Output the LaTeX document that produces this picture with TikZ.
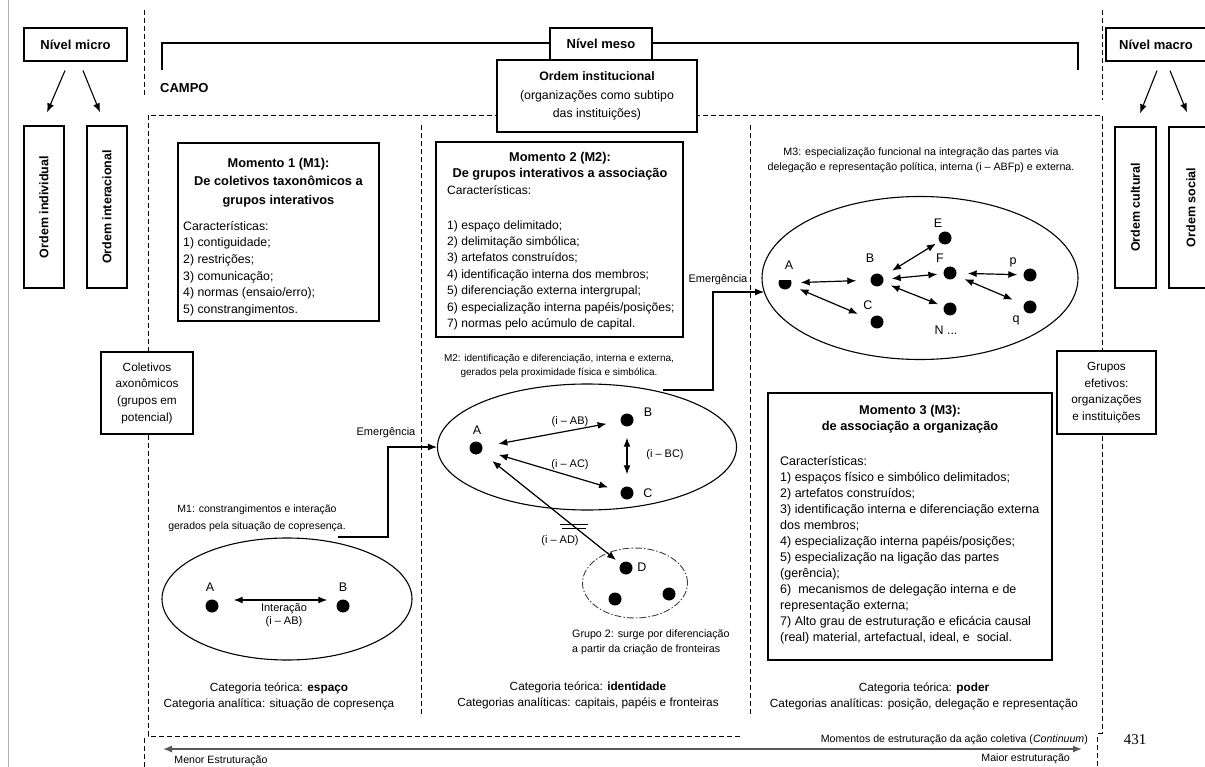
\documentclass[tikz,border=0pt]{standalone}
\usepackage{fontspec}
\setmainfont{Liberation Sans}
\newfontfamily\numfont{Liberation Serif}
\usetikzlibrary{arrows.meta,shapes.geometric}
\newcommand\topstrut{\rule{0pt}{9pt}}
\begin{document}
\begin{tikzpicture}[x=1pt,y=-1pt,
  frame/.style={draw, line width=1.2pt, fill=white, inner sep=0pt},
  dsh/.style={dash pattern=on 5pt off 3pt, line width=0.8pt},
  ell/.style={draw, ellipse, line width=1.1pt, inner sep=0pt},
  dot/.style={circle, fill=black, inner sep=0pt, minimum size=13pt},
  arr/.style={-{Latex[length=9pt,width=7pt]}, line width=1.1pt},
  dbl/.style={{Latex[length=9pt,width=7pt]}-{Latex[length=9pt,width=7pt]}, line width=1.2pt},
  lvl/.style={font=\fontsize{13}{15}\selectfont\bfseries},
  rot/.style={rotate=90, font=\fontsize{12.5}{14}\selectfont\bfseries, inner sep=0pt},
  lab/.style={font=\fontsize{12.5}{14}\selectfont, inner sep=0pt},
  rel/.style={font=\fontsize{11}{13}\selectfont, inner sep=0pt},
  ctr/.style={inner sep=0pt, align=center},
  foottxt/.style={font=\fontsize{10.6}{12}\selectfont, inner sep=0pt}
]
\useasboundingbox (0,0) rectangle (1205,767);
\fill[white] (0,0) rectangle (1205,767);
\draw[black!30, line width=1pt] (8,0) -- (8,767);

% separators between the levels and the field
\draw[dsh] (144,10) -- (144,97);
\draw[dsh] (144,738) -- (144,767);
\draw[dsh] (1102,10) -- (1102,100);
\draw[dsh] (740,736) -- (148,736) -- (148,115) -- (1102,115) -- (1102,733) -- (1097,733);
\draw[dsh] (1097,737) -- (1097,767);
\draw[dsh] (421,125) -- (421,715);
\draw[dsh] (750,125) -- (750,715);

% meso bracket
\draw[line width=1.1pt] (162,70) -- (162,43) -- (1078,43) -- (1078,70);

% levels
\node[frame, lvl, minimum width=103pt, minimum height=33pt] (micro) at (75.5,44.5) {Nível micro};
\node[frame, lvl, minimum width=102pt, minimum height=32pt] (meso) at (601,44) {Nível meso};
\node[frame, lvl, minimum width=100pt, minimum height=33pt] (macro) at (1156,44.5) {Nível macro};

\node[frame, minimum width=40pt, minimum height=162pt] (oind) at (44,207) {};
\node[rot] (oindt) at (oind) {Ordem individual};
\node[frame, minimum width=40pt, minimum height=162pt] (oint) at (107,207) {};
\node[rot] (ointt) at (oint) {Ordem interacional};
\node[frame, minimum width=41pt, minimum height=161pt] (ocul) at (1135.5,207.5) {};
\node[rot] (ocult) at (ocul) {Ordem cultural};
\node[frame, minimum width=41pt, minimum height=161pt] (osoc) at (1189.5,207.5) {};
\node[rot] (osoct) at (1191,207.5) {Ordem social};

\draw[arr] ([xshift=-10.5pt,yshift=-9pt]micro.south) -- ([xshift=3pt,yshift=13pt]oind.north);
\draw[arr] ([xshift=7.5pt,yshift=-9pt]micro.south) -- ([xshift=-7pt,yshift=13pt]oint.north);
\draw[arr] ([xshift=1pt,yshift=-9pt]macro.south) -- ([xshift=4.5pt,yshift=13pt]ocul.north);
\draw[arr] ([xshift=14pt,yshift=-9pt]macro.south) -- ([xshift=-2.5pt,yshift=14pt]osoc.north);

\node[lvl, anchor=west, inner sep=0pt] (campo) at (160,88) {CAMPO};

\node[frame, minimum width=200pt, minimum height=72pt, align=center,
      font=\fontsize{12.3}{18.5}\selectfont] (oinst) at (597,96)
  {\textbf{Ordem institucional}\\(organizações como subtipo\\das instituições)};

\node[frame, minimum width=92pt, minimum height=82pt, align=center,
      font=\fontsize{11.8}{16.7}\selectfont] (colet) at (147,393)
  {Coletivos\\axonômicos\\(grupos em\\potencial)};
\node[frame, minimum width=99pt, minimum height=83pt, align=center,
      font=\fontsize{11.8}{16.7}\selectfont] (efet) at (1106.5,392.5)
  {Grupos\\efetivos:\\organizações\\e instituições};

% ---------- Momento 1 ----------
\node[frame, minimum width=201pt, minimum height=178pt] (m1box) at (278.5,232) {};
\node[ctr, anchor=north, font=\fontsize{12.8}{18.5}\selectfont\bfseries] (m1ttl) at (278.5,158)
  {\topstrut Momento 1 (M1):\\De coletivos taxonômicos a\\grupos interativos};
\node[inner sep=0pt, align=left, anchor=north west, font=\fontsize{12.3}{16.6}\selectfont] (m1lst) at (183,221)
  {\topstrut Características:\\1) contiguidade;\\2) restrições;\\3) comunicação;\\4) normas (ensaio/erro);\\5) constrangimentos.};

\node[ctr, anchor=north, font=\fontsize{10.5}{17}\selectfont] (m1cap) at (257,503)
  {\topstrut M1: constrangimentos e interação\\gerados pela situação de copresença.};

\node[ell, minimum width=250pt, minimum height=122pt] (e1) at (287,599) {};
\node[dot] (a1) at (212,606) {};
\node[dot] (b1) at (343,606) {};
\node[lab] (la1) at (210,587) {A};
\node[lab] (lb1) at (343,587) {B};
\draw[dbl, shorten <=15pt, shorten >=9pt] ([yshift=6pt]a1.east) -- ([yshift=6pt]b1.west);
\node[rel, align=center, anchor=north] (i1) at (284,602) {\topstrut Interação\\(i – AB)};

\node[ctr, anchor=north, font=\fontsize{11.8}{16.5}\selectfont] (cat1) at (279,682)
  {\topstrut Categoria teórica: \textbf{espaço}\\Categoria analítica: situação de copresença};

% ---------- Momento 2 ----------
\node[frame, minimum width=247pt, minimum height=195pt] (m2box) at (559.5,239.5) {};
\node[ctr, anchor=north, font=\fontsize{12.8}{16.5}\selectfont\bfseries] (m2ttl) at (560,152)
  {\topstrut Momento 2 (M2):\\De grupos interativos a associação};
\node[inner sep=0pt, align=left, anchor=north west, font=\fontsize{12.1}{16.4}\selectfont] (m2lst) at (447,185)
  {\topstrut Características:\\[18.6pt]1) espaço delimitado;\\2) delimitação simbólica;\\3) artefatos construídos;\\4) identificação interna dos membros;\\5) diferenciação externa intergrupal;\\6) especialização interna papéis/posições;\\7) normas pelo acúmulo de capital.};

\node[ctr, anchor=north, font=\fontsize{10}{14.5}\selectfont] (m2cap) at (559,352)
  {\topstrut M2: identificação e diferenciação, interna e externa,\\gerados pela proximidade física e simbólica.};

\node[ell, minimum width=299pt, minimum height=126pt] (e2) at (587,447) {};
\node[dot] (a2) at (476,448) {};
\node[dot] (b2) at (627,420) {};
\node[dot] (c2) at (627,493) {};
\node[lab] (la2) at (477,430) {A};
\node[lab] (lb2) at (648,412) {B};
\node[lab] (lc2) at (648,493) {C};
\draw[dbl, shorten <=16pt, shorten >=14pt] (a2) -- (b2);
\draw[dbl, shorten <=17pt, shorten >=13pt] (a2) -- (c2);
\draw[dbl, shorten <=11pt, shorten >=12pt] (b2) -- (c2);
\node[rel] (iab) at (570,422) {(i – AB)};
\node[rel] (iac) at (570,465) {(i – AC)};
\node[rel] (ibc) at (665,455) {(i – BC)};

\node[ell, dash pattern=on 7pt off 2pt on 1.5pt off 2pt, draw=black!75, line width=0.9pt,
      minimum width=105pt, minimum height=70pt] (eD) at (635,583) {};
\node[dot] (d2) at (626,568) {};
\node[dot] (d2b) at (615,599) {};
\node[dot] (d2c) at (669,594) {};
\node[lab] (ld2) at (642,567) {D};
\draw[dbl, shorten <=14pt, shorten >=6pt] (a2) -- (d2);
\path (a2) -- (d2) coordinate[pos=0.665] (adcut);
\draw[line width=1.1pt] (adcut) ++(-14,-2) -- ++(28,0);
\draw[line width=1.1pt] (adcut) ++(-12,2) -- ++(24,0);
\node[rel] (iad) at (560,541) {(i – AD)};

\node[inner sep=0pt, align=left, anchor=north west, font=\fontsize{10.7}{15}\selectfont] (g2cap) at (572,628)
  {\topstrut Grupo 2: surge por diferenciação\\a partir da criação de fronteiras};

\node[ctr, anchor=north, font=\fontsize{11.8}{16.5}\selectfont] (cat2) at (588,681)
  {\topstrut Categoria teórica: \textbf{identidade}\\Categorias analíticas: capitais, papéis e fronteiras};

% emergence from M1 to M2
\coordinate (m1out) at (338,537);
\draw[arr] (m1out) -- ++(50,0) |- (e2.west);
\node[rel] (em1) at (386,433) {Emergência};

% ---------- Momento 3 ----------
\node[ctr, anchor=north, font=\fontsize{10.7}{15}\selectfont] (m3cap) at (921,146)
  {\topstrut M3: especialização funcional na integração das partes via\\delegação e representação política, interna (i – ABFp) e externa.};

\node[ell, minimum width=316pt, minimum height=163pt] (e3) at (920,278) {};
\node[circle, inner sep=0pt, minimum size=13pt] (a3) at (785,283) {};
\begin{scope}
  \clip (778,281) rectangle (792,291);
  \fill (a3.center) circle[radius=6.5];
\end{scope}
\node[dot] (b3) at (877,280) {};
\node[dot] (c3) at (877,322) {};
\node[dot] (e3n) at (945,238) {};
\node[dot] (f3) at (950,273) {};
\node[dot] (n3) at (950,309) {};
\node[dot] (p3) at (1030,275) {};
\node[dot] (q3) at (1030,307) {};
\node[lab] (la3) at (789,265) {A};
\node[lab] (lb3) at (870,258) {B};
\node[lab] (lc3) at (868,305) {C};
\node[lab] (le3) at (938,223) {E};
\node[lab] (lf3) at (940,258) {F};
\node[lab] (ln3) at (946,330) {N ...};
\node[lab] (lp3) at (1013,262) {p};
\node[lab] (lq3) at (1016,320) {q};
\draw[dbl, shorten <=9pt, shorten >=14pt] (a3) -- (b3);
\draw[dbl, shorten <=9pt, shorten >=14pt] (a3) -- (c3);
\draw[dbl, shorten <=11pt, shorten >=4pt] (b3) -- (e3n);
\draw[dbl, shorten <=8pt, shorten >=6pt] (b3) -- (f3);
\draw[dbl, shorten <=8pt, shorten >=6pt] (b3) -- (n3);
\draw[dbl, shorten <=11pt, shorten >=6pt] (f3) -- (p3);
\draw[dbl, shorten <=9pt, shorten >=12pt] (f3) -- (q3);

% emergence from M2 to M3
\coordinate (m2out) at (663,390);
\coordinate (e3in) at (764,292);
\draw[arr] (m2out) -- ++(50,0) |- (e3in);
\node[rel] (em2) at (718,280) {Emergência};

\node[frame, minimum width=284pt, minimum height=267pt] (m3box) at (910,526.5) {};
\node[ctr, anchor=north, font=\fontsize{12.8}{16}\selectfont\bfseries] (m3ttl) at (910,405)
  {\topstrut Momento 3 (M3):\\de associação a organização};
\node[inner sep=0pt, align=left, anchor=north west, font=\fontsize{12.5}{16}\selectfont] (m3lst) at (780,456)
  {\topstrut Características:\\1) espaços físico e simbólico delimitados;\\2) artefatos construídos;\\3) identificação interna e diferenciação externa\\dos membros;\\4) especialização interna papéis/posições;\\5) especialização na ligação das partes\\(gerência);\\6)\ \ mecanismos de delegação interna e de\\representação externa;\\7) Alto grau de estruturação e eficácia causal\\(real) material, artefactual, ideal, e\ \ social.};

\node[ctr, anchor=north, font=\fontsize{11.8}{16.5}\selectfont] (cat3) at (924,682)
  {\topstrut Categoria teórica: \textbf{poder}\\Categorias analíticas: posição, delegação e representação};

% ---------- continuum ----------
\coordinate (lo) at (163,749);
\coordinate (hi) at (1082,749);
\draw[dbl, draw=black!65, fill=black!65, line width=1.3pt] (lo) -- (hi);
\node[foottxt] (menor) at (221,761) {Menor Estruturação};
\node[foottxt, anchor=east] (momentos) at (1088,740) {Momentos de estruturação da ação coletiva (\textit{Continuum})};
\node[foottxt, anchor=east] (maior) at (1070,759) {Maior estruturação};
\node[inner sep=0pt, font=\numfont\fontsize{15}{17}\selectfont] (pg) at (1135,740) {431};
\end{tikzpicture}
\end{document}
